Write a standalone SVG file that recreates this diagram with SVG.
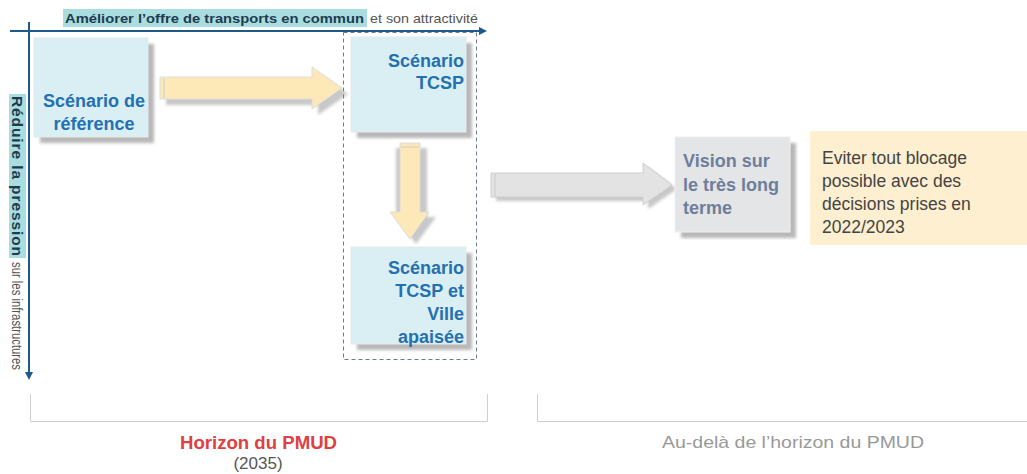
<svg xmlns="http://www.w3.org/2000/svg" width="1027" height="474" viewBox="0 0 1027 474">
<defs>
<filter id="sh" x="-20%" y="-20%" width="140%" height="140%"><feGaussianBlur stdDeviation="1.5"/></filter>
<marker id="ah" markerWidth="8" markerHeight="8" refX="6" refY="4" orient="auto" markerUnits="userSpaceOnUse"><path d="M0,0 L8,4 L0,8 Z" fill="#1d5a8a"/></marker>
</defs>
<style>
.axis{stroke:#1d5a8a;stroke-width:2;fill:none}
.shadow{fill:#b8b8b8;filter:url(#sh)}
.sbox{fill:#d9eff4;stroke:#e8e8e8;stroke-width:1}
.gbox{fill:#e4e5e7;stroke:#f0f0f0;stroke-width:1}
.stxt{font-family:"Liberation Sans",Arial,sans-serif;font-weight:bold;font-size:18px;fill:#2470b0}
.vtxt{font-family:"Liberation Sans",Arial,sans-serif;font-weight:bold;font-size:18px;fill:#6d7f9b}
.yarrow{fill:#fde8b8;stroke:#dddddd;stroke-width:1}
.garrow{fill:#e3e3e3;stroke:#cfcfcf;stroke-width:1}
.ashadow{fill:#c8c8c8;filter:url(#sh)}
.bracket{stroke:#cfcfcf;stroke-width:1;fill:none}
.lbl{font-family:"Liberation Sans",Arial,sans-serif;font-size:13px}
</style>
<g id="axes">
<rect x="63" y="9" width="304" height="18" fill="#a9dde0"/>
<text class="lbl" x="65" y="23" font-weight="bold" fill="#1e3b4f" textLength="299" lengthAdjust="spacingAndGlyphs">Améliorer l’offre de transports en commun</text>
<text class="lbl" x="370" y="23" fill="#555" textLength="108" lengthAdjust="spacingAndGlyphs">et son attractivité</text>
<line class="axis" x1="10" y1="31" x2="485" y2="31" marker-end="url(#ah)"/>
<line class="axis" x1="29" y1="22" x2="29" y2="378" marker-end="url(#ah)"/>
<rect x="9" y="94" width="17" height="164" fill="#a9dde0"/>
<g transform="translate(12,96) rotate(90)">
<text x="0" y="0" font-family="'Liberation Sans',Arial,sans-serif" font-size="15.5" font-weight="bold" fill="#1e3b4f" textLength="160" lengthAdjust="spacing">Réduire la pression</text>
<text x="166" y="0" font-family="'Liberation Sans',Arial,sans-serif" font-size="14" fill="#555" textLength="108" lengthAdjust="spacingAndGlyphs">sur les infrastructures</text>
</g>
</g>
<g id="connectors">
<path class="ashadow" d="M166,83 H318 V73 L348,94 L318,115 V105 H166 Z"/>
<path class="yarrow" d="M160,77 H312 V67 L342,88 L312,109 V99 H160 Z"/>
<line x1="164" y1="78" x2="164" y2="98" stroke="#cccccc"/>
<path class="ashadow" d="M405,148 H427 V217 H436 L416,244 L396,217 V148 Z"/>
<path class="yarrow" d="M400,143 H420 V212 H429 L410,239 L390,212 H400 Z"/>
<line x1="401" y1="147" x2="419" y2="147" stroke="#cccccc"/>
<path class="ashadow" d="M496,177 H648 V167 L677,189 L648,209 V201 H496 Z"/>
<path class="garrow" d="M491,173 H643 V163 L672,185 L643,205 V197 H491 Z"/>
<line x1="495" y1="174" x2="495" y2="196" stroke="#cccccc"/>
</g>
<rect id="group-pmud" x="343.5" y="32.5" width="133" height="327" fill="none" stroke="#6c7d93" stroke-width="1" stroke-dasharray="4,3"/>
<g id="node-reference">
<rect class="shadow" x="40" y="44" width="114" height="99"/>
<rect class="sbox" x="34" y="38" width="114" height="99"/>
<text class="stxt" x="94" y="107" text-anchor="middle">Scénario de</text>
<text class="stxt" x="94" y="130" text-anchor="middle">référence</text>
</g>
<g id="node-tcsp">
<rect class="shadow" x="357" y="43" width="115" height="95"/>
<rect class="sbox" x="351" y="37" width="115" height="95"/>
<text class="stxt" x="464" y="67" text-anchor="end">Scénario</text>
<text class="stxt" x="464" y="89" text-anchor="end">TCSP</text>
</g>
<g id="node-tcsp-ville">
<rect class="shadow" x="357" y="253" width="115" height="97"/>
<rect class="sbox" x="351" y="247" width="115" height="97"/>
<text class="stxt" x="464" y="274" text-anchor="end">Scénario</text>
<text class="stxt" x="464" y="297" text-anchor="end">TCSP et</text>
<text class="stxt" x="464" y="320" text-anchor="end">Ville</text>
<text class="stxt" x="464" y="343" text-anchor="end">apaisée</text>
</g>
<g id="node-vision">
<rect class="shadow" x="681" y="143" width="115" height="95"/>
<rect class="gbox" x="675" y="137" width="115" height="95"/>
<text class="vtxt" x="683" y="167">Vision sur</text>
<text class="vtxt" x="683" y="191">le très long</text>
<text class="vtxt" x="683" y="214">terme</text>
</g>
<g id="node-note">
<rect x="810" y="131" width="217" height="114" fill="#fdefcf"/>
<text font-family="'Liberation Sans',Arial,sans-serif" font-size="17.5" fill="#444">
<tspan x="822" y="164">Eviter tout blocage</tspan>
<tspan x="822" y="187">possible avec des</tspan>
<tspan x="822" y="210">décisions prises en</tspan>
<tspan x="822" y="233">2022/2023</tspan>
</text>
</g>
<g id="horizons">
<path class="bracket" d="M30.5,394 V421.5 H487.5 V394"/>
<path class="bracket" d="M537.5,394 V421.5 H1027"/>
<text x="180" y="449" font-family="'Liberation Sans',Arial,sans-serif" font-size="18" font-weight="bold" fill="#e0403f" textLength="157" lengthAdjust="spacingAndGlyphs">Horizon du PMUD</text>
<text x="258" y="469" text-anchor="middle" font-family="'Liberation Sans',Arial,sans-serif" font-size="17" fill="#555">(2035)</text>
<text x="662" y="448" font-family="'Liberation Sans',Arial,sans-serif" font-size="17" fill="#999" textLength="262" lengthAdjust="spacingAndGlyphs">Au-delà de l’horizon du PMUD</text>
</g>
</svg>
